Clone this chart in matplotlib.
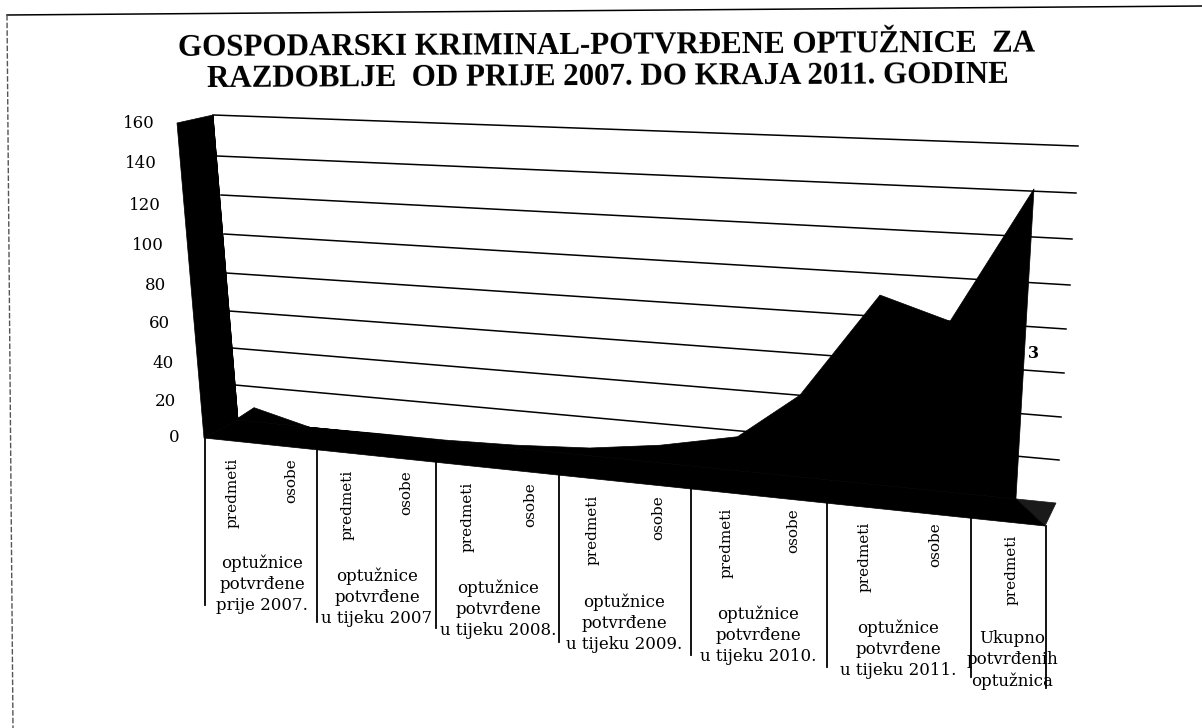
import numpy as np
import matplotlib
matplotlib.use("Agg")
import matplotlib.pyplot as plt
from matplotlib.patches import Polygon
from matplotlib.transforms import Transform

# ---- data -------------------------------------------------------------
title_lines = ["GOSPODARSKI KRIMINAL-POTVRĐENE OPTUŽNICE  ZA",
               "RAZDOBLJE  OD PRIJE 2007. DO KRAJA 2011. GODINE"]
axis_ticks = [0, 20, 40, 60, 80, 100, 120, 140, 160]
sub_labels = ["predmeti", "osobe"] * 6 + ["predmeti"]
group_labels = ["optužnice\npotvrđene\nprije 2007.",
                "optužnice\npotvrđene\nu tijeku 2007",
                "optužnice\npotvrđene\nu tijeku 2008.",
                "optužnice\npotvrđene\nu tijeku 2009.",
                "optužnice\npotvrđene\nu tijeku 2010.",
                "optužnice\npotvrđene\nu tijeku 2011.",
                "Ukupno\npotvrđenih\noptužnica"]
values = [160, 8, 0, 0.4, 0.5, 1.6, 4, 9, 17, 40, 90, 80, 141]
first_base = 1

# ---- projection calibration (the tilted 3-D wall of the scanned chart) ---
wall_left_x = [238, 235, 232, 229, 226, 224, 221, 217, 213]
wall_left_y = [420, 385, 348, 311, 273, 234, 195, 156, 115]
wall_right_x = [1056, 1059, 1061, 1064, 1066, 1070, 1072, 1076, 1078]
wall_right_y = [503, 460, 417, 373, 329, 285, 239, 193, 146]
depth_s = [0, .021, .088, .171, .253, .339, .43, .516, .61, .685, .777, .862, .951, 1.0]
FRONT = dict(lb=(204, 438), lt=(177, 123), rb=(1045, 526), rt=(1069, 170))


class WallTransform(Transform):
    """(category index, value) -> picture position on the back wall or front plane."""
    input_dims = output_dims = 2
    is_separable = False
    has_inverse = False

    def __init__(self, front=False):
        super().__init__()
        self.front = front

    def transform_non_affine(self, xy):
        xy = np.asarray(xy, float)
        s = np.interp(xy[:, 0], np.arange(len(depth_s)), depth_s)
        v = xy[:, 1]
        if self.front:
            f = v / 160
            lx = FRONT['lb'][0] + f * (FRONT['lt'][0] - FRONT['lb'][0])
            ly = FRONT['lb'][1] + f * (FRONT['lt'][1] - FRONT['lb'][1])
            rx = FRONT['rb'][0] + f * (FRONT['rt'][0] - FRONT['rb'][0])
            ry = FRONT['rb'][1] + f * (FRONT['rt'][1] - FRONT['rb'][1])
        else:
            lx = np.interp(v, axis_ticks, wall_left_x)
            ly = np.interp(v, axis_ticks, wall_left_y)
            rx = np.interp(v, axis_ticks, wall_right_x)
            ry = np.interp(v, axis_ticks, wall_right_y)
        return np.column_stack([lx + s * (rx - lx), ly + s * (ry - ly)])


back = WallTransform()
front = WallTransform(front=True)

fig = plt.figure(figsize=(12.02, 7.28), dpi=100)
ax = fig.add_axes([0, 0, 1, 1])
ax.set_xlim(0, 1202)
ax.set_ylim(728, 0)
ax.axis('off')
SERIF = 'Liberation Serif'
WIDE = 'DejaVu Serif'
INK = '#000000'

# page frame of the scan
ax.plot([7, 1202], [15, 6], color=INK, lw=1.1)
ax.plot([7, 13], [15, 728], color='#555555', lw=1.0, ls=(0, (4, 1.5)))

# title
ax.text(607, 46, title_lines[0], family=SERIF, weight='bold', fontsize=22.3,
        ha='center', va='center', color=INK, rotation=0.3, rotation_mode='anchor')
ax.text(608, 77.5, title_lines[1], family=SERIF, weight='bold', fontsize=22.3,
        ha='center', va='center', color=INK, rotation=0.3, rotation_mode='anchor')

# gridlines on the back wall
last = len(depth_s) - 1
for t in axis_ticks[1:]:
    ax.plot([0, last], [t, t], transform=back + ax.transData, color=INK, lw=1.1, zorder=1)

# y tick labels
tick_right = [179, 176, 174, 170, 166, 164, 161, 157, 155]
tick_y = [438, 402, 363, 323, 286, 246, 206, 163, 123]
for t, xr, yy in zip(axis_ticks, tick_right, tick_y):
    ax.text(xr, yy, str(t), family=WIDE, fontsize=12, ha='right', va='center', color=INK)

# the filled series
n = len(values)
idx = np.arange(n)
top = np.column_stack([idx, values]).astype(float)
top[0, 1] = first_base
area = np.vstack([[[0, values[0]]], top, [[n - 1, 0], [0, 0]]])
ax.add_patch(Polygon(area, closed=True, fc=INK, ec=INK, lw=0.5,
                     transform=back + ax.transData, zorder=3))
# left side face
side_b = back.transform(np.array([[0, values[0]], [0, 0]], float))
side_f = front.transform(np.array([[0, values[0]], [0, 0]], float))
ax.add_patch(Polygon(np.vstack([side_b, side_f[::-1]]), closed=True, fc=INK, ec=INK, lw=0.5, zorder=3))
# floor below the series, and the uncovered tail of the floor
base = np.column_stack([idx, np.zeros(n)]).astype(float)
fl_b = back.transform(base)
fl_f = front.transform(np.array([[0, 0.], [last, 0.]]))
ax.add_patch(Polygon(np.vstack([fl_b, fl_f[::-1]]), closed=True, fc=INK, ec=INK, lw=0.5, zorder=3))
tail = np.array([[n - 1, 0.], [last, 0.]])
ax.add_patch(Polygon(np.vstack([back.transform(tail), fl_f[1]]), closed=True,
                     fc='#1a1a1a', ec='#1a1a1a', lw=0.5, zorder=2.5))

# hidden data label
ax.text(1033, 354, "3", family=WIDE, weight='bold', fontsize=11.5, ha='center', va='center', color=INK, zorder=2)

# separators
sep_x = [205, 317, 436, 559, 691, 827, 971, 1046]
sep_bottom = [605, 622, 628, 642, 655, 667, 677, 688]
base_x0, base_y0 = FRONT['lb']
base_slope = (FRONT['rb'][1] - FRONT['lb'][1]) / (FRONT['rb'][0] - FRONT['lb'][0])
for x, yb in zip(sep_x, sep_bottom):
    ax.plot([x, x], [base_y0 + (x - base_x0) * base_slope, yb], color=INK, lw=1.3, zorder=2)

# rotated sub labels
sub_x = [233, 291, 348, 406, 468, 530, 593, 658, 727, 793, 865, 935, 1012]
sub_top = [458, 458, 470, 470, 482, 482, 495, 495, 508, 508, 522, 522, 535]
for lab, x, y in zip(sub_labels, sub_x, sub_top):
    ax.text(x, y, lab, family=WIDE, fontsize=11, rotation=90, ha='center', va='top', color=INK, zorder=4)

# group labels
grp_x = [262, 377, 498, 624, 758, 898, 1012]
grp_y = [584, 597, 609, 623, 635, 649, 660]
for lab, x, y in zip(group_labels, grp_x, grp_y):
    ax.text(x, y, lab, family=WIDE, fontsize=12, ha='center', va='center', color=INK,
            linespacing=1.3, zorder=4)

fig.savefig('out.png', dpi=100)
